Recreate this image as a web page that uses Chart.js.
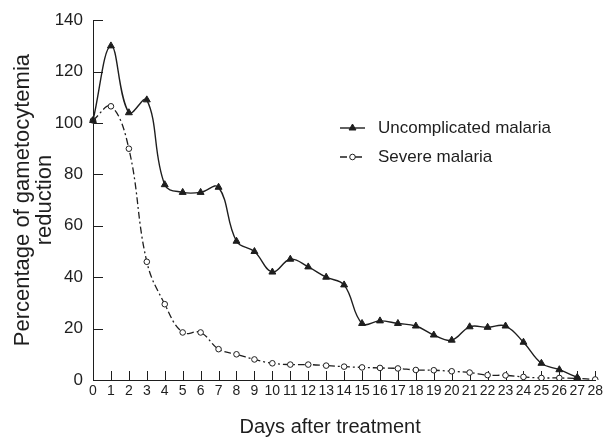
<!DOCTYPE html>
<html>
<head>
<meta charset="utf-8">
<script src="https://cdn.jsdelivr.net/npm/chart.js@4.4.0/dist/chart.umd.min.js"></script>
<style>
  html, body { margin: 0; padding: 0; background: #fff; }
  #wrap { width: 606px; height: 437px; }
</style>
</head>
<body>
<div id="wrap"><canvas id="chart" width="606" height="437"></canvas></div>
<script>
// days after treatment (x categories)
const days = ['0','1','2','3','4','5','6','7','8','9','10','11','12','13','14',
  '15','16','17','18','19','20','21','22','23','24','25','26','27','28'];

// % gametocytemia reduction
const uncomplicated = [101, 130, 104, 109, 76, 73, 73, 75, 54, 50, 42, 47, 44, 40,
  37, 22, 23, 22, 21, 17.5, 15.5, 20.7, 20.5, 21, 14.7, 6.5, 4, 1];
const severe = [101, 106.5, 90, 46, 29.5, 18.5, 18.5, 12, 10, 8, 6.5, 6, 6, 5.6,
  5.2, 4.9, 4.7, 4.5, 3.9, 3.8, 3.4, 2.9, 1.9, 1.8, 1.2, 0.8, 0.8, 0.6, 0.2];

const yTicks = [0, 20, 40, 60, 80, 100, 120, 140];
const seriesNames = ['Uncomplicated malaria', 'Severe malaria'];
const xTitle = 'Days after treatment';

const ink = '#1e1e1e';
const fontFamily = "'Liberation Sans', Arial, Helvetica, sans-serif";

// 안쪽으로 향하는 눈금
const innerTicks = {
  id: 'innerTicks',
  beforeDatasetsDraw(chart) {
    const ctx = chart.ctx;
    const xs = chart.scales.x, ys = chart.scales.y;
    const a = chart.chartArea;
    ctx.save();
    ctx.strokeStyle = ink;
    ctx.lineWidth = 1;
    ctx.beginPath();
    yTicks.forEach(function(v) {
      const py = Math.round(ys.getPixelForValue(v)) + 0.5;
      ctx.moveTo(a.left, py);
      ctx.lineTo(a.left + 10, py);
    });
    days.forEach(function(d, i) {
      if (i === 0) return;
      const px = Math.round(xs.getPixelForValue(i)) + 0.5;
      ctx.moveTo(px, a.bottom);
      ctx.lineTo(px, a.bottom - 9);
    });
    ctx.stroke();
    ctx.restore();
  }
};

// 범례 (차트 안쪽) + x축 제목
const innerLegend = {
  id: 'innerLegend',
  afterDraw(chart) {
    const ctx = chart.ctx;
    const a = chart.chartArea;
    const rows = [128, 157];
    ctx.save();
    chart.data.datasets.forEach(function(ds, i) {
      const y = rows[i];
      ctx.strokeStyle = ink;
      ctx.lineWidth = ds.borderWidth;
      ctx.setLineDash(ds.borderDash || []);
      ctx.beginPath();
      ctx.moveTo(340, y);
      ctx.lineTo(365, y);
      ctx.stroke();
      ctx.setLineDash([]);
      ctx.fillStyle = ds.pointBackgroundColor;
      ctx.strokeStyle = ds.pointBorderColor;
      ctx.lineWidth = ds.pointBorderWidth;
      Chart.helpers.drawPoint(ctx, {
        pointStyle: ds.pointStyle,
        radius: ds.pointRadius,
        borderWidth: ds.pointBorderWidth
      }, 352.5, y);
      ctx.fillStyle = ink;
      ctx.font = '17px ' + fontFamily;
      ctx.textBaseline = 'middle';
      ctx.textAlign = 'left';
      ctx.fillText(ds.label, 378, y);
    });
    // x축 제목 (원본은 중앙에서 약간 왼쪽)
    ctx.font = '20px ' + fontFamily;
    ctx.textAlign = 'center';
    ctx.textBaseline = 'middle';
    ctx.fillText(xTitle, (a.left + a.right) / 2 - 14, 427);
    ctx.restore();
  }
};

new Chart(document.getElementById('chart'), {
  type: 'line',
  data: {
    labels: days,
    datasets: [
      {
        label: seriesNames[0],
        data: uncomplicated,
        borderColor: ink,
        borderWidth: 1.4,
        tension: 0.4,
        pointStyle: 'triangle',
        pointRadius: 4,
        pointBackgroundColor: ink,
        pointBorderColor: ink,
        pointBorderWidth: 1
      },
      {
        label: seriesNames[1],
        data: severe,
        borderColor: ink,
        borderWidth: 1.3,
        borderDash: [7, 3, 2, 3],
        tension: 0.4,
        pointStyle: 'circle',
        pointRadius: 2.8,
        pointBackgroundColor: '#ffffff',
        pointBorderColor: ink,
        pointBorderWidth: 1
      }
    ]
  },
  options: {
    responsive: false,
    animation: false,
    layout: { padding: { left: 0, right: 9, top: 20, bottom: 0 } },
    plugins: {
      legend: { display: false },
      tooltip: { enabled: false }
    },
    scales: {
      x: {
        offset: false,
        grid: { display: false, drawTicks: false },
        border: { display: true, color: ink, width: 1 },
        ticks: {
          color: ink,
          autoSkip: false,
          maxRotation: 0,
          padding: 3,
          font: { family: fontFamily, size: 14 }
        },
        title: { display: false },
        afterFit(scale) { scale.height = 57; }
      },
      y: {
        min: 0,
        max: 140,
        grid: { display: false, drawTicks: false },
        border: { display: true, color: ink, width: 1 },
        ticks: {
          color: ink,
          stepSize: 20,
          padding: 10,
          font: { family: fontFamily, size: 17 }
        },
        title: {
          display: true,
          text: ['Percentage of gametocytemia', 'reduction'],
          color: ink,
          padding: { top: 12, bottom: 0 },
          font: { family: fontFamily, size: 22, lineHeight: 1 }
        },
        afterFit(scale) { scale.width = 93; }
      }
    }
  },
  plugins: [innerTicks, innerLegend]
});
</script>
</body>
</html>
